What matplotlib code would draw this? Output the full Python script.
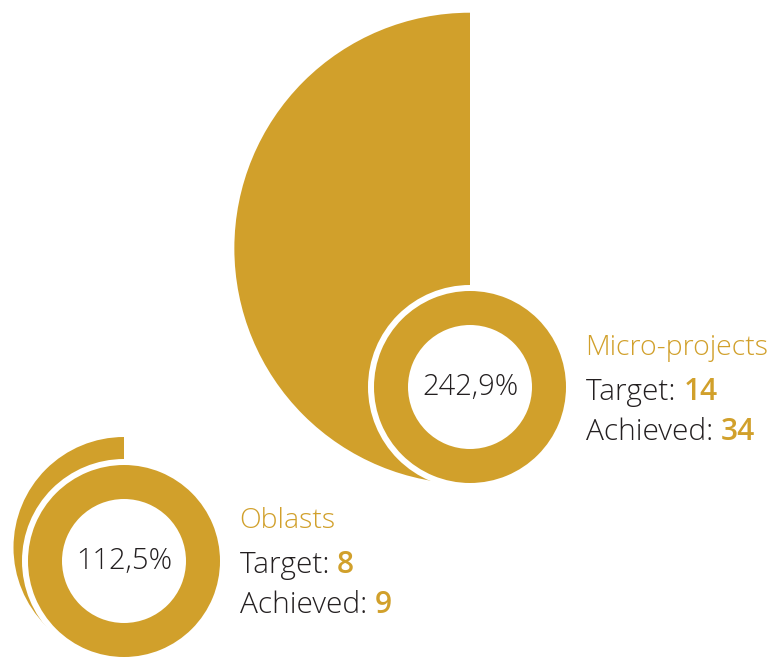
import matplotlib
matplotlib.use("Agg")
import matplotlib.pyplot as plt
from matplotlib.patches import Wedge, Circle

# ---- data ----
names = ["Micro-projects", "Oblasts"]
targets = [14, 8]
achieved = [34, 9]
pct_labels = ["242,9%", "112,5%"]

# ---- layout (pixels) ----
W, H = 776, 657
GOLD = "#D1A02B"
DARK = "#231F20"
ring_centers = [(470, 387), (124, 561)]
r_out, r_in = 96, 62
gap = 6
label_pos = [(585, 355), (239, 528)]
line_offsets = [45, 85]

fig = plt.figure(figsize=(W / 100, H / 100), dpi=100)
ax = fig.add_axes([0, 0, 1, 1])
ax.set_xlim(0, W)
ax.set_ylim(H, 0)
ax.set_aspect("equal")
ax.axis("off")

FONT = "Open Sans"

for i in range(len(names)):
    cx, cy = ring_centers[i]
    ratio = achieved[i] / targets[i]
    R = ratio * r_out + 2.5
    # overflow half-disc, bottom-aligned with the ring
    big_cy = cy + r_out + 1 - R
    ax.add_patch(Wedge((cx, big_cy), R, 90, 270, facecolor=GOLD, edgecolor="none", zorder=1))
    # white gap + ring
    ax.add_patch(Circle((cx, cy), r_out + gap, facecolor="white", edgecolor="none", zorder=2))
    ax.add_patch(Wedge((cx, cy), r_out, 0, 360, width=r_out - r_in, facecolor=GOLD,
                       edgecolor="none", zorder=3))
    ax.text(cx, cy, pct_labels[i], ha="center", va="center", fontsize=21, color=DARK,
            family=FONT, fontweight="light", zorder=4)

fig.canvas.draw()
renderer = fig.canvas.get_renderer()

def two_tone(x, y, a, b):
    t = ax.text(x, y, a, ha="left", va="baseline", fontsize=21.5, color=DARK,
                family=FONT, fontweight="light")
    bb = t.get_window_extent(renderer=renderer)
    x2 = ax.transData.inverted().transform((bb.x1, 0))[0]
    ax.text(x2, y, b, ha="left", va="baseline", fontsize=21.5, color=GOLD,
            family=FONT, fontweight="semibold")

for i in range(len(names)):
    lx, ly = label_pos[i]
    ax.text(lx, ly, names[i], ha="left", va="baseline", fontsize=20.5, color=GOLD,
            family=FONT, fontweight="light")
    two_tone(lx + 1, ly + line_offsets[0], "Target: ", str(targets[i]))
    two_tone(lx + 1, ly + line_offsets[1], "Achieved: ", str(achieved[i]))

fig.savefig("out.png", dpi=100)
